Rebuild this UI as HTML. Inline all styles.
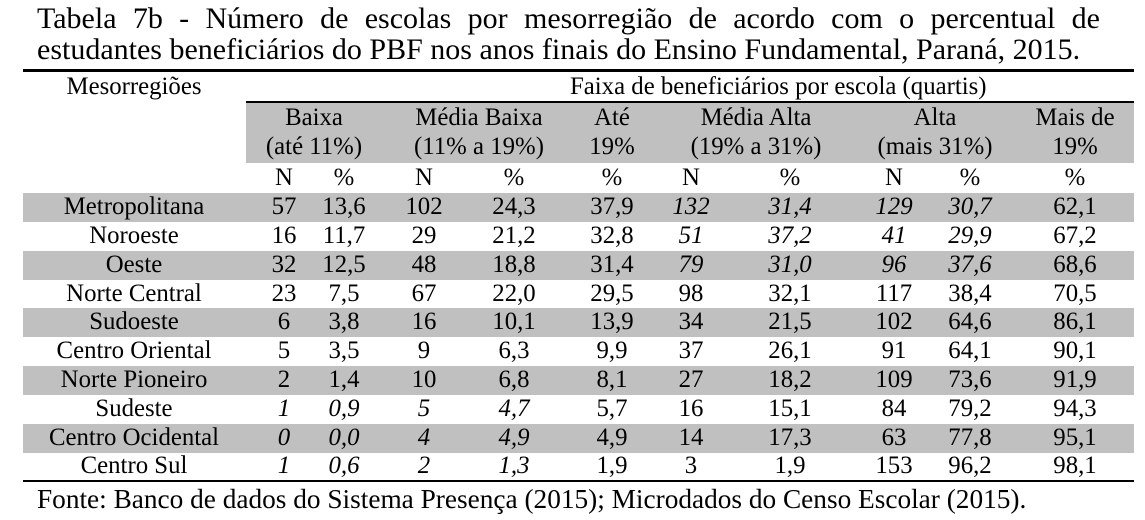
<!DOCTYPE html>
<html><head><meta charset="utf-8"><style>
body{margin:0;width:1145px;height:520px;background:#fff;position:relative;overflow:hidden;font-family:"Liberation Serif",serif;color:#000}
.t{position:absolute;left:37px;width:1063px;font-size:30px;line-height:30px;white-space:nowrap}
.j{text-align:justify;text-align-last:justify}
.c{position:absolute;width:240px;margin-left:-120px;text-align:center;font-size:24.8px;line-height:28px;white-space:nowrap}
.i{font-style:italic}
.g{position:absolute;background:#c0c0c0}
.r{position:absolute;background:#000}
</style></head><body>
<div class="t j" style="top:4px">Tabela 7b - Número de escolas por mesorregião de acordo com o percentual de</div>
<div class="t" style="top:35px">estudantes beneficiários do PBF nos anos finais do Ensino Fundamental, Paraná, 2015.</div>
<div class="r" style="left:23px;top:69px;width:1111px;height:3px"></div>
<div class="r" style="left:246px;top:101px;width:888px;height:2px"></div>
<div class="g" style="left:246px;top:103px;width:888px;height:60px"></div>
<div class="g" style="left:23px;top:193px;width:1111px;height:29px"></div>
<div class="g" style="left:23px;top:251px;width:1111px;height:29px"></div>
<div class="g" style="left:23px;top:308px;width:1111px;height:29px"></div>
<div class="g" style="left:23px;top:366px;width:1111px;height:29px"></div>
<div class="g" style="left:23px;top:424px;width:1111px;height:29px"></div>
<div class="r" style="left:23px;top:480px;width:1111px;height:2px"></div>
<div class="c" style="left:134px;top:73px">Mesorregiões</div>
<div class="c" style="left:690px;top:73px">Faixa de beneficiários por escola (quartis)</div>
<div class="c" style="left:314px;top:104px">Baixa</div><div class="c" style="left:314px;top:133px">(até 11%)</div>
<div class="c" style="left:479px;top:104px">Média Baixa</div><div class="c" style="left:479px;top:133px">(11% a 19%)</div>
<div class="c" style="left:612px;top:104px">Até</div><div class="c" style="left:612px;top:133px">19%</div>
<div class="c" style="left:756px;top:104px">Média Alta</div><div class="c" style="left:756px;top:133px">(19% a 31%)</div>
<div class="c" style="left:935px;top:104px">Alta</div><div class="c" style="left:935px;top:133px">(mais 31%)</div>
<div class="c" style="left:1075px;top:104px">Mais de</div><div class="c" style="left:1075px;top:133px">19%</div>
<div class="c" style="left:284px;top:164px">N</div><div class="c" style="left:344px;top:164px">%</div><div class="c" style="left:424px;top:164px">N</div><div class="c" style="left:514px;top:164px">%</div><div class="c" style="left:612px;top:164px">%</div><div class="c" style="left:691px;top:164px">N</div><div class="c" style="left:790px;top:164px">%</div><div class="c" style="left:894px;top:164px">N</div><div class="c" style="left:970px;top:164px">%</div><div class="c" style="left:1075px;top:164px">%</div>

<div class="c" style="left:134px;top:193px">Metropolitana</div><div class="c" style="left:284px;top:193px">57</div><div class="c" style="left:344px;top:193px">13,6</div><div class="c" style="left:424px;top:193px">102</div><div class="c" style="left:514px;top:193px">24,3</div><div class="c" style="left:612px;top:193px">37,9</div><div class="c i" style="left:691px;top:193px">132</div><div class="c i" style="left:790px;top:193px">31,4</div><div class="c i" style="left:894px;top:193px">129</div><div class="c i" style="left:970px;top:193px">30,7</div><div class="c" style="left:1075px;top:193px">62,1</div>
<div class="c" style="left:134px;top:222px">Noroeste</div><div class="c" style="left:284px;top:222px">16</div><div class="c" style="left:344px;top:222px">11,7</div><div class="c" style="left:424px;top:222px">29</div><div class="c" style="left:514px;top:222px">21,2</div><div class="c" style="left:612px;top:222px">32,8</div><div class="c i" style="left:691px;top:222px">51</div><div class="c i" style="left:790px;top:222px">37,2</div><div class="c i" style="left:894px;top:222px">41</div><div class="c i" style="left:970px;top:222px">29,9</div><div class="c" style="left:1075px;top:222px">67,2</div>
<div class="c" style="left:134px;top:251px">Oeste</div><div class="c" style="left:284px;top:251px">32</div><div class="c" style="left:344px;top:251px">12,5</div><div class="c" style="left:424px;top:251px">48</div><div class="c" style="left:514px;top:251px">18,8</div><div class="c" style="left:612px;top:251px">31,4</div><div class="c i" style="left:691px;top:251px">79</div><div class="c i" style="left:790px;top:251px">31,0</div><div class="c i" style="left:894px;top:251px">96</div><div class="c i" style="left:970px;top:251px">37,6</div><div class="c" style="left:1075px;top:251px">68,6</div>
<div class="c" style="left:134px;top:280px">Norte Central</div><div class="c" style="left:284px;top:280px">23</div><div class="c" style="left:344px;top:280px">7,5</div><div class="c" style="left:424px;top:280px">67</div><div class="c" style="left:514px;top:280px">22,0</div><div class="c" style="left:612px;top:280px">29,5</div><div class="c" style="left:691px;top:280px">98</div><div class="c" style="left:790px;top:280px">32,1</div><div class="c" style="left:894px;top:280px">117</div><div class="c" style="left:970px;top:280px">38,4</div><div class="c" style="left:1075px;top:280px">70,5</div>
<div class="c" style="left:134px;top:308px">Sudoeste</div><div class="c" style="left:284px;top:308px">6</div><div class="c" style="left:344px;top:308px">3,8</div><div class="c" style="left:424px;top:308px">16</div><div class="c" style="left:514px;top:308px">10,1</div><div class="c" style="left:612px;top:308px">13,9</div><div class="c" style="left:691px;top:308px">34</div><div class="c" style="left:790px;top:308px">21,5</div><div class="c" style="left:894px;top:308px">102</div><div class="c" style="left:970px;top:308px">64,6</div><div class="c" style="left:1075px;top:308px">86,1</div>
<div class="c" style="left:134px;top:337px">Centro Oriental</div><div class="c" style="left:284px;top:337px">5</div><div class="c" style="left:344px;top:337px">3,5</div><div class="c" style="left:424px;top:337px">9</div><div class="c" style="left:514px;top:337px">6,3</div><div class="c" style="left:612px;top:337px">9,9</div><div class="c" style="left:691px;top:337px">37</div><div class="c" style="left:790px;top:337px">26,1</div><div class="c" style="left:894px;top:337px">91</div><div class="c" style="left:970px;top:337px">64,1</div><div class="c" style="left:1075px;top:337px">90,1</div>
<div class="c" style="left:134px;top:366px">Norte Pioneiro</div><div class="c" style="left:284px;top:366px">2</div><div class="c" style="left:344px;top:366px">1,4</div><div class="c" style="left:424px;top:366px">10</div><div class="c" style="left:514px;top:366px">6,8</div><div class="c" style="left:612px;top:366px">8,1</div><div class="c" style="left:691px;top:366px">27</div><div class="c" style="left:790px;top:366px">18,2</div><div class="c" style="left:894px;top:366px">109</div><div class="c" style="left:970px;top:366px">73,6</div><div class="c" style="left:1075px;top:366px">91,9</div>
<div class="c" style="left:134px;top:395px">Sudeste</div><div class="c i" style="left:284px;top:395px">1</div><div class="c i" style="left:344px;top:395px">0,9</div><div class="c i" style="left:424px;top:395px">5</div><div class="c i" style="left:514px;top:395px">4,7</div><div class="c" style="left:612px;top:395px">5,7</div><div class="c" style="left:691px;top:395px">16</div><div class="c" style="left:790px;top:395px">15,1</div><div class="c" style="left:894px;top:395px">84</div><div class="c" style="left:970px;top:395px">79,2</div><div class="c" style="left:1075px;top:395px">94,3</div>
<div class="c" style="left:134px;top:424px">Centro Ocidental</div><div class="c i" style="left:284px;top:424px">0</div><div class="c i" style="left:344px;top:424px">0,0</div><div class="c i" style="left:424px;top:424px">4</div><div class="c i" style="left:514px;top:424px">4,9</div><div class="c" style="left:612px;top:424px">4,9</div><div class="c" style="left:691px;top:424px">14</div><div class="c" style="left:790px;top:424px">17,3</div><div class="c" style="left:894px;top:424px">63</div><div class="c" style="left:970px;top:424px">77,8</div><div class="c" style="left:1075px;top:424px">95,1</div>
<div class="c" style="left:134px;top:452px">Centro Sul</div><div class="c i" style="left:284px;top:452px">1</div><div class="c i" style="left:344px;top:452px">0,6</div><div class="c i" style="left:424px;top:452px">2</div><div class="c i" style="left:514px;top:452px">1,3</div><div class="c" style="left:612px;top:452px">1,9</div><div class="c" style="left:691px;top:452px">3</div><div class="c" style="left:790px;top:452px">1,9</div><div class="c" style="left:894px;top:452px">153</div><div class="c" style="left:970px;top:452px">96,2</div><div class="c" style="left:1075px;top:452px">98,1</div>

<div style="position:absolute;left:37px;top:484px;font-size:27.3px;line-height:30px;white-space:nowrap">Fonte: Banco de dados do Sistema Presença (2015); Microdados do Censo Escolar (2015).</div>
</body></html>
